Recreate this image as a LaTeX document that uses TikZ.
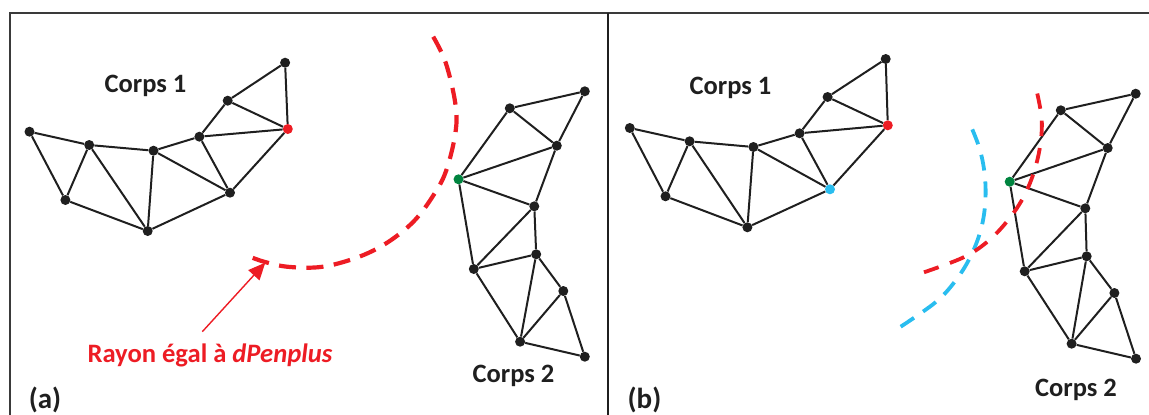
\documentclass[tikz,border=0pt]{standalone}
\usepackage{fontspec}
\setmainfont{Carlito}
\usetikzlibrary{arrows.meta}
\definecolor{inkblack}{HTML}{1F1F1F}
\definecolor{framegrey}{HTML}{3A3A3A}
\definecolor{dotred}{HTML}{ED1C24}
\definecolor{dotgreen}{HTML}{00843F}
\definecolor{dotblue}{HTML}{29BDEF}
\tikzset{
  meshdot/.style={circle,fill=inkblack,inner sep=0pt,minimum size=10pt},
  reddot/.style={meshdot,fill=dotred},
  greendot/.style={meshdot,fill=dotgreen},
  bluedot/.style={meshdot,fill=dotblue},
  meshedge/.style={draw=inkblack,line width=2pt},
  framerule/.style={draw=framegrey,line width=2pt},
  radiusred/.style={draw=dotred,line width=3.8pt,dash pattern=on 15.5pt off 12pt},
  radiusredwide/.style={draw=dotred,line width=4.2pt,dash pattern=on 17pt off 10.5pt},
  radiusblue/.style={draw=dotblue,line width=3.8pt,dash pattern=on 16pt off 11pt},
  bodylabel/.style={font=\fontsize{26.5}{30}\selectfont\bfseries,text=inkblack,anchor=base,inner sep=0pt},
  taglabel/.style={font=\fontsize{29}{32}\selectfont\bfseries,text=inkblack,anchor=base,inner sep=0pt},
  redlabel/.style={font=\fontsize{26.6}{30}\selectfont\bfseries,text=dotred,anchor=base,inner sep=0pt},
}
\begin{document}
\begin{tikzpicture}[x=1pt,y=-1pt]
\useasboundingbox (0,0) rectangle (1149,415);
% frame
\coordinate (fbl) at (9.5,415);
\coordinate (ftl) at (9.5,12.5);
\coordinate (ftr) at (1149,12.5);
\coordinate (dt) at (607.8,12.5);
\coordinate (db) at (607.8,415);
\draw[framerule] (fbl) -- (ftl) -- (ftr);
\draw[framerule,draw=inkblack] (dt) -- (db);

% panel a, corps 1
\foreach \n/\x/\y/\s in {a/29.5/131.7/meshdot,b/89.2/145/meshdot,c/153.5/150.7/meshdot,d/199.4/136.7/meshdot,e/227.7/100.7/meshdot,f/285.1/62.7/meshdot,g/287.8/129/reddot,h/230/192.7/meshdot,i/147.7/231/meshdot,j/65.4/200/meshdot}
  \node[\s] (A\n) at (\x,\y) {};
\foreach \u/\v in {a/b,b/c,c/d,d/e,e/f,f/g,e/g,d/g,g/h,d/h,c/h,c/i,h/i,b/i,b/j,a/j,j/i}
  \draw[meshedge] (A\u) -- (A\v);
% panel a, corps 2
\foreach \n/\x/\y/\s in {k/584.8/91.3/meshdot,l/509.8/108.3/meshdot,m/556.8/145.7/meshdot,n/458.5/179.3/greendot,o/534.3/206.3/meshdot,p/536.2/254.3/meshdot,q/473.8/269/meshdot,r/563.3/291/meshdot,s/520.1/341.7/meshdot,t/584.8/356.7/meshdot}
  \node[\s] (A\n) at (\x,\y) {};
\foreach \u/\v in {l/k,k/m,l/m,l/n,n/m,m/o,n/o,n/q,o/q,o/p,p/q,q/s,p/s,p/r,r/s,r/t,s/t}
  \draw[meshedge] (A\u) -- (A\v);

% panel b, corps 1
\foreach \n/\x/\y/\s in {a/629.8/128/meshdot,b/689.6/141.3/meshdot,c/753.4/147/meshdot,d/799.6/133.3/meshdot,e/827.6/97/meshdot,f/885.7/59/meshdot,g/887.8/125.3/reddot,h/830/189.3/bluedot,i/747.4/227.3/meshdot,j/665.5/196.3/meshdot}
  \node[\s] (B\n) at (\x,\y) {};
\foreach \u/\v in {a/b,b/c,c/d,d/e,e/f,f/g,e/g,d/g,g/h,d/h,c/h,c/i,h/i,b/i,b/j,a/j,j/i}
  \draw[meshedge] (B\u) -- (B\v);
% panel b, corps 2
\foreach \n/\x/\y/\s in {k/1135.7/93.7/meshdot,l/1060.8/110.3/meshdot,m/1107.7/148/meshdot,n/1009.7/181.7/greendot,o/1085.3/208.3/meshdot,p/1086.7/256.3/meshdot,q/1024.7/271.3/meshdot,r/1114.4/293/meshdot,s/1071.6/343.7/meshdot,t/1136/358.7/meshdot}
  \node[\s] (B\n) at (\x,\y) {};
\foreach \u/\v in {l/k,k/m,l/m,l/n,n/m,m/o,n/o,n/q,o/q,o/p,p/q,q/s,p/s,p/r,r/s,r/t,s/t}
  \draw[meshedge] (B\u) -- (B\v);

% dashed arcs
\draw[radiusredwide] plot[smooth,tension=0.6] coordinates {(433.2,36.7)(445.8,63)(455.4,104)(455.4,133)(445.8,171.7)(432.5,196.7)(415,220)(394,238)(371,251.7)(344.4,261.7)(317.6,267.3)(287,266.7)(264,261.7)(248,256)};
\draw[radiusblue] plot[smooth,tension=0.6] coordinates {(900.7,326.7)(935,302.7)(954.3,282.3)(969.3,259)(980,232.7)(985,206)(985,177.7)(980,150)(970,124)};
\draw[radiusred] plot[smooth,tension=0.6] coordinates {(924,272.3)(962.7,257.7)(986.7,242.3)(1006.3,222.3)(1022.3,199.3)(1033.3,174)(1040,146.7)(1041.7,119.3)(1036.7,91)};

% arrow
\coordinate (arrowstart) at (202.3,331.7);
\coordinate (arrowtip) at (265.3,262.7);
\draw[dotred,line width=1.4pt,-{Triangle[length=17pt,width=15pt]}] (arrowstart) -- (arrowtip);

% labels
\node[bodylabel] (c1a) at (145.5,92) {Corps 1};
\node[bodylabel] (c2a) at (513.5,382) {Corps 2};
\node[bodylabel] (c1b) at (730.5,94.7) {Corps 1};
\node[bodylabel] (c2b) at (1076,396.7) {Corps 2};
\node[taglabel] (tagA) at (45,408) {(a)};
\node[taglabel] (tagB) at (644.5,408) {(b)};
\node[redlabel] (rayon) at (210,362.7) {Rayon égal à \textit{dPenplus}};
\end{tikzpicture}
\end{document}
